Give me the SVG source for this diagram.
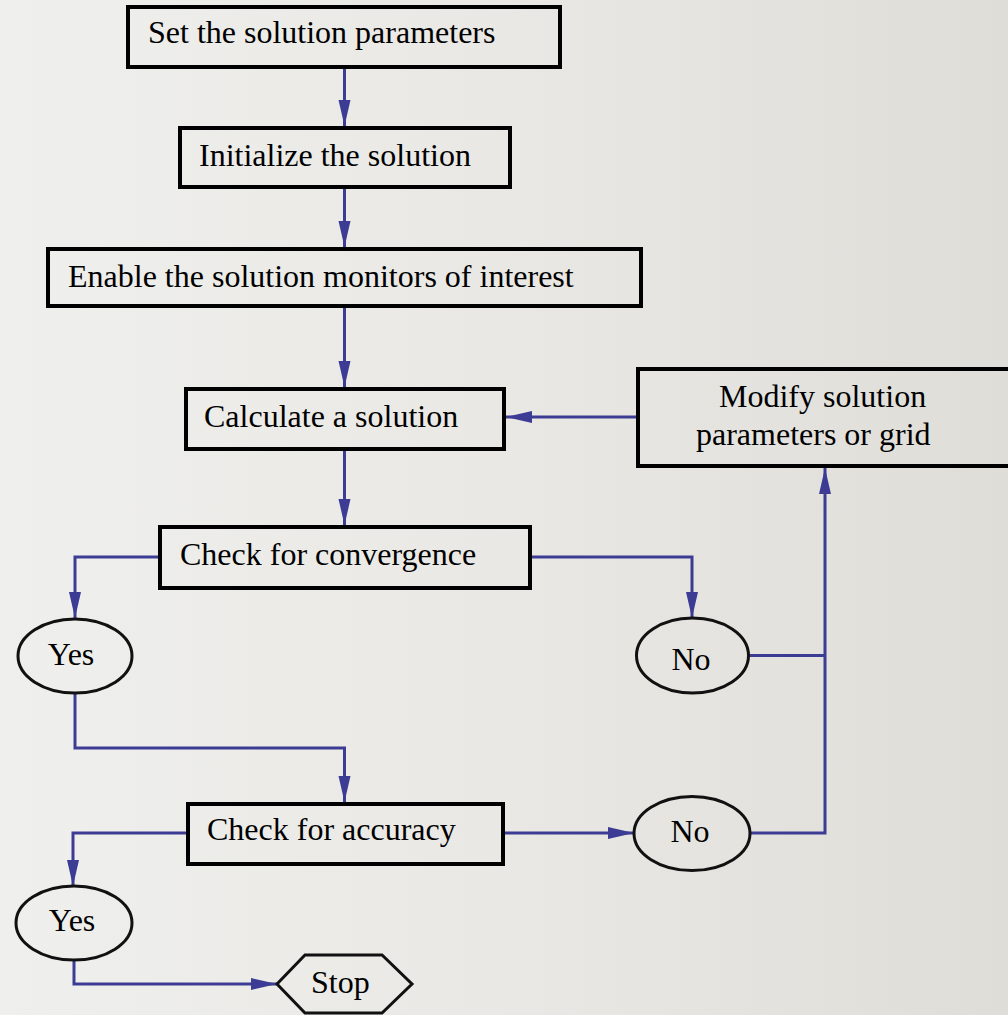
<svg xmlns="http://www.w3.org/2000/svg" width="1008" height="1015" viewBox="0 0 1008 1015">
  <defs>
    <linearGradient id="bg" x1="0" y1="0" x2="1" y2="0">
      <stop offset="0" stop-color="#efefed"/>
      <stop offset="0.5" stop-color="#e9e8e4"/>
      <stop offset="1" stop-color="#dfddd8"/>
    </linearGradient>
    <marker id="arrow" viewBox="0 0 26 14" refX="26" refY="7" markerWidth="26" markerHeight="14" markerUnits="userSpaceOnUse" orient="auto">
      <path d="M0,1 L26,7 L0,13 Z" fill="#3c3c94"/>
    </marker>
  </defs>
  <style>
    .box { fill: none; stroke: #000; stroke-width: 4; }
    .oval { fill: none; stroke: #111; stroke-width: 3; }
    .lbl { font-family: "Liberation Serif", "Times New Roman", serif; font-size: 32px; fill: #000; }
    .mid { text-anchor: middle; }
    .conn { fill: none; stroke: #3c3c94; stroke-width: 3; }
  </style>
  <rect x="0" y="0" width="1008" height="1015" fill="url(#bg)"/>

  <g id="connectors">
    <path class="conn" d="M344.5,67 V126" marker-end="url(#arrow)"/>
    <path class="conn" d="M344.5,187 V247" marker-end="url(#arrow)"/>
    <path class="conn" d="M344.5,306 V387" marker-end="url(#arrow)"/>
    <path class="conn" d="M638,417 H506" marker-end="url(#arrow)"/>
    <path class="conn" d="M344.5,449 V525" marker-end="url(#arrow)"/>
    <path class="conn" d="M160,557 H75 V618" marker-end="url(#arrow)"/>
    <path class="conn" d="M530,557 H692 V618" marker-end="url(#arrow)"/>
    <path class="conn" d="M748.5,655.5 H825"/>
    <path class="conn" d="M750,833 H825 V468" marker-end="url(#arrow)"/>
    <path class="conn" d="M75,693 V748 H344.5 V802" marker-end="url(#arrow)"/>
    <path class="conn" d="M503,833 H634" marker-end="url(#arrow)"/>
    <path class="conn" d="M188,833 H73 V886" marker-end="url(#arrow)"/>
    <path class="conn" d="M74,960 V984 H277" marker-end="url(#arrow)"/>
  </g>

  <g id="set-params">
    <rect class="box" x="128" y="7" width="432" height="60"/>
    <text class="lbl" x="148" y="43">Set the solution parameters</text>
  </g>
  <g id="initialize">
    <rect class="box" x="180" y="128" width="330" height="59"/>
    <text class="lbl" x="199" y="166">Initialize the solution</text>
  </g>
  <g id="enable-monitors">
    <rect class="box" x="48" y="249" width="593" height="57"/>
    <text class="lbl" x="68" y="287">Enable the solution monitors of interest</text>
  </g>
  <g id="calculate">
    <rect class="box" x="186" y="389" width="318" height="60"/>
    <text class="lbl" x="204" y="427">Calculate a solution</text>
  </g>
  <g id="modify">
    <rect class="box" x="638" y="369" width="400" height="97"/>
    <text class="lbl" x="719" y="407">Modify solution</text>
    <text class="lbl" x="696" y="445">parameters or grid</text>
  </g>
  <g id="check-convergence">
    <rect class="box" x="160" y="527" width="370" height="61"/>
    <text class="lbl" x="180" y="565">Check for convergence</text>
  </g>
  <g id="yes-1">
    <ellipse class="oval" cx="75" cy="656" rx="57" ry="37"/>
    <text class="lbl mid" x="71" y="665">Yes</text>
  </g>
  <g id="no-1">
    <ellipse class="oval" cx="692.5" cy="655.5" rx="56" ry="37.5"/>
    <text class="lbl mid" x="691" y="670">No</text>
  </g>
  <g id="check-accuracy">
    <rect class="box" x="188" y="804" width="315" height="60"/>
    <text class="lbl" x="207" y="840">Check for accuracy</text>
  </g>
  <g id="no-2">
    <ellipse class="oval" cx="692" cy="833.5" rx="58" ry="37"/>
    <text class="lbl mid" x="690" y="842">No</text>
  </g>
  <g id="yes-2">
    <ellipse class="oval" cx="74" cy="923" rx="58" ry="37"/>
    <text class="lbl mid" x="72" y="931">Yes</text>
  </g>
  <g id="stop">
    <polygon class="oval" points="277,984 305,955 382,955 412,984 382,1013 305,1013"/>
    <text class="lbl" x="311" y="993">Stop</text>
  </g>
</svg>
